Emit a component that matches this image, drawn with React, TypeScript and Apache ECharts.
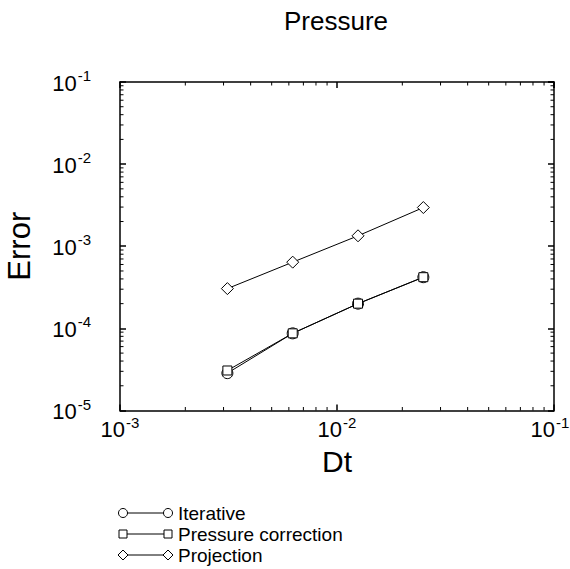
import React, { useEffect, useRef } from "react";
import * as echarts from "echarts";

const dt = [0.003125, 0.00625, 0.0125, 0.025];
const iterative = [2.85e-5, 8.7e-5, 2.0e-4, 4.2e-4];
const pressureCorrection = [3.07e-5, 8.7e-5, 2.0e-4, 4.2e-4];
const projection = [3.05e-4, 6.4e-4, 1.34e-3, 2.96e-3];
const seriesNames = ["Iterative", "Pressure correction", "Projection"];
const seriesSymbols = ["circle", "rect", "diamond"];
const seriesSizes = [11, 9, 12];
const xDecades = [1e-3, 1e-2];
const yDecades = [1e-5, 1e-4, 1e-3, 1e-2];
const mantissas = [2, 3, 4, 5, 6, 7, 8, 9];

const FONT = "Liberation Sans, Arial, Helvetica, sans-serif";

function supLabel(v: number) {
  const e = Math.round(Math.log10(v));
  return `{b|10}{s|${e}}`;
}

function xSupLabel(v: number) {
  const e = Math.round(Math.log10(v));
  return e === -1 ? `{b|10}{sr|${e}}` : `{b|10}{s|${e}}`;
}

const richStyle = {
  b: { fontSize: 22, fontFamily: FONT, color: "#000", verticalAlign: "bottom", lineHeight: 24 },
  s: { fontSize: 15, fontFamily: FONT, color: "#000", verticalAlign: "bottom", lineHeight: 24, padding: [0, 0, 11, 1] },
  sr: { fontSize: 15, fontFamily: FONT, color: "#000", verticalAlign: "bottom", lineHeight: 24, padding: [0, 8, 11, 1] },
};

export default function App() {
  const ref = useRef<HTMLDivElement>(null);
  useEffect(() => {
    document.body.style.margin = "0";
    const chart = echarts.init(ref.current!, null, { renderer: "svg" });

    const minorData: number[][] = [];
    xDecades.forEach((d) => mantissas.forEach((m) => minorData.push([d * m, 1e-5, 0])));
    yDecades.forEach((d) => mantissas.forEach((m) => minorData.push([1e-3, d * m, 1])));

    const lineData = [iterative, pressureCorrection, projection];

    const baseAxis = {
      type: "log",
      logBase: 10,
      axisLine: { show: true, lineStyle: { color: "#000", width: 1.5 } },
      axisTick: { show: true, inside: true, length: 6, lineStyle: { color: "#000", width: 1.5 } },
      splitLine: { show: false },
    };

    const legendGraphics: any[] = [];
    const legendX0 = 123;
    const legendX1 = 168;
    const legendY = [513, 534, 555];
    seriesNames.forEach((name, i) => {
      const y = legendY[i];
      legendGraphics.push({
        type: "line",
        shape: { x1: legendX0, y1: y, x2: legendX1, y2: y },
        style: { stroke: "#000", lineWidth: 1 },
      });
      [legendX0, legendX1].forEach((cx) => {
        const sym = seriesSymbols[i];
        if (sym === "circle") {
          legendGraphics.push({ type: "circle", shape: { cx, cy: y, r: 4.5 }, style: { fill: "#fff", stroke: "#000", lineWidth: 1 } });
        } else if (sym === "rect") {
          legendGraphics.push({ type: "rect", shape: { x: cx - 4, y: y - 4, width: 8, height: 8 }, style: { fill: "#fff", stroke: "#000", lineWidth: 1 } });
        } else {
          legendGraphics.push({
            type: "polygon",
            shape: { points: [[cx, y - 5], [cx + 5, y], [cx, y + 5], [cx - 5, y]] },
            style: { fill: "#fff", stroke: "#000", lineWidth: 1 },
          });
        }
      });
      legendGraphics.push({
        type: "text",
        x: 178,
        y,
        style: { text: name, fontSize: 19, fontFamily: FONT, fill: "#000", verticalAlign: "middle", align: "left" },
      });
    });

    chart.setOption({
      animation: false,
      backgroundColor: "#fff",
      title: {
        text: "Pressure",
        left: 336,
        top: 8,
        padding: 0,
        textAlign: "center",
        textStyle: { fontSize: 26, fontWeight: "normal", fontFamily: FONT, color: "#000" },
      },
      grid: { left: 120, right: 16, top: 82, bottom: 158.5, outerBoundsMode: "none", containLabel: false },
      xAxis: [
        {
          ...baseAxis,
          min: 1e-3,
          max: 1e-1,
          position: "bottom",
          name: "Dt",
          nameLocation: "middle",
          nameGap: 36,
          nameTextStyle: { fontSize: 30, fontFamily: FONT, color: "#000" },
          axisLabel: { formatter: xSupLabel, margin: 6, rich: richStyle },
        },
        {
          ...baseAxis,
          min: 1e-3,
          max: 1e-1,
          position: "top",
          axisLabel: { show: false },
        },
      ],
      yAxis: [
        {
          ...baseAxis,
          min: 1e-5,
          max: 1e-1,
          position: "left",
          name: "Error",
          nameLocation: "middle",
          nameGap: 85,
          nameTextStyle: { fontSize: 31, fontFamily: FONT, color: "#000" },
          axisLabel: { formatter: supLabel, margin: 29, rich: richStyle },
        },
        {
          ...baseAxis,
          min: 1e-5,
          max: 1e-1,
          position: "right",
          axisLabel: { show: false },
        },
      ],
      graphic: legendGraphics,
      series: [
        ...seriesNames.map((name, i) => ({
          name,
          type: "line",
          data: dt.map((x, j) => [x, lineData[i][j]]),
          symbol: seriesSymbols[i],
          symbolSize: seriesSizes[i],
          showSymbol: true,
          lineStyle: { color: "#000", width: 1 },
          itemStyle: { color: "#fff", borderColor: "#000", borderWidth: 1 },
          z: 3,
        })),
        {
          type: "custom",
          data: minorData,
          silent: true,
          renderItem: (params: any, api: any) => {
            const v0 = api.value(0);
            const v1 = api.value(1);
            const kind = api.value(2);
            const len = 3.5;
            if (kind === 0) {
              const bottom = api.coord([v0, 1e-5]);
              const top = api.coord([v0, 1e-1]);
              return {
                type: "group",
                children: [
                  { type: "line", shape: { x1: bottom[0], y1: bottom[1], x2: bottom[0], y2: bottom[1] - len }, style: { stroke: "#000", lineWidth: 1 } },
                  { type: "line", shape: { x1: top[0], y1: top[1], x2: top[0], y2: top[1] + len }, style: { stroke: "#000", lineWidth: 1 } },
                ],
              };
            }
            const left = api.coord([1e-3, v1]);
            const right = api.coord([1e-1, v1]);
            return {
              type: "group",
              children: [
                { type: "line", shape: { x1: left[0], y1: left[1], x2: left[0] + len, y2: left[1] }, style: { stroke: "#000", lineWidth: 1 } },
                { type: "line", shape: { x1: right[0], y1: right[1], x2: right[0] - len, y2: right[1] }, style: { stroke: "#000", lineWidth: 1 } },
              ],
            };
          },
          z: 2,
        },
      ],
    });
    return () => chart.dispose();
  }, []);
  return <div ref={ref} style={{ width: 570, height: 569 }} />;
}
